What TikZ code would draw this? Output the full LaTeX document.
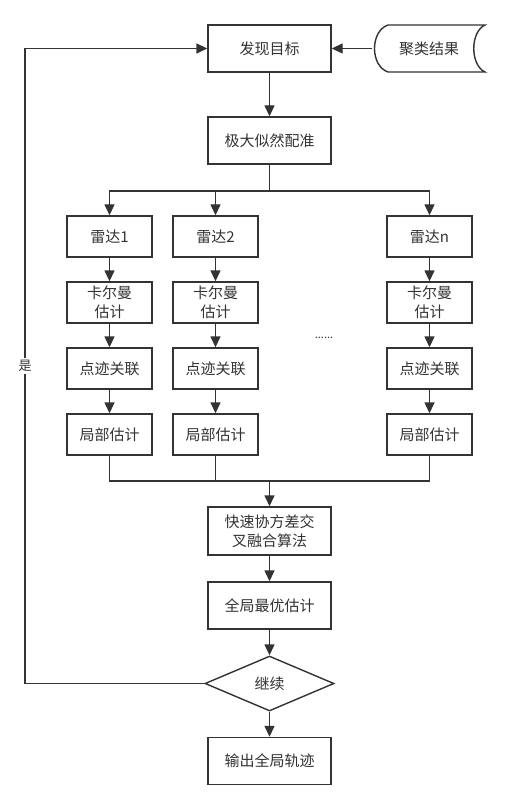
\documentclass[tikz,border=0pt]{standalone}
\usepackage{fontspec}
\setmainfont{Noto Sans CJK SC}
\usetikzlibrary{shapes.geometric,arrows.meta}
\begin{document}
\begin{tikzpicture}[x=1pt,y=-1pt,
  line width=1.4pt, draw=black!80,
  every node/.style={text=black!80, font=\fontsize{15}{19}\selectfont},
  bigbox/.style={draw=black!80, rectangle, minimum width=123pt, minimum height=47pt, inner sep=0pt, align=center},
  smallbox/.style={draw=black!80, rectangle, minimum width=85pt, minimum height=41pt, inner sep=0pt, align=center},
  arr/.style={draw=black!80, -{Triangle[length=11pt,width=10pt]}},
  ln/.style={draw=black!80}]
\useasboundingbox (0,0) rectangle (510,810);
\fill[white] (0,0) rectangle (510,810);

\node[bigbox] (find) at (269.5,48.5) {发现目标};
\node[bigbox] (mle) at (269.5,140.5) {极大似然配准};

% stored data shape
\node[minimum width=112pt, minimum height=47pt, inner sep=0pt] (clus) at (429,48.5) {聚类结果};
\draw[ln] (388,25) -- (485,25) .. controls (470,32) and (470,65) .. (485,72) -- (388,72) .. controls (370,66) and (370,31) .. (388,25) -- cycle;

\foreach \n/\x/\t in {1/109.5/1, 2/215.5/2, n/429.5/n}{
  \node[smallbox] (r\n) at (\x,236.5) {雷达\t};
  \node[smallbox] (k\n) at (\x,302.5) {卡尔曼\\估计};
  \node[smallbox] (a\n) at (\x,368.5) {点迹关联};
  \node[smallbox] (l\n) at (\x,434.5) {局部估计};
  \draw[arr] (r\n) -- (k\n);
  \draw[arr] (k\n) -- (a\n);
  \draw[arr] (a\n) -- (l\n);
}
\node[font=\fontsize{11}{13}\selectfont] (dots) at (324,338) {......};

\node[bigbox, minimum height=48pt] (fuse) at (269.5,531) {快速协方差交\\叉融合算法};
\node[bigbox] (glob) at (269.5,605.5) {全局最优估计};
\node[draw=black!80, diamond, shape aspect=2.35, minimum width=129pt, minimum height=55pt, inner sep=0pt] (cont) at (269.5,683.5) {继续};
\node[bigbox] (out) at (269.5,761) {输出全局轨迹};

\coordinate (split) at (269.5,191);
\coordinate (merge) at (269.5,481);
\coordinate (cb) at (25,683.5);
\coordinate (ct) at (25,48.5);

\draw[arr] (clus.west) -- (find.east);
\draw[arr] (find) -- (mle);
\draw[ln] (mle.south) -- (split);
\draw[arr] (split) -| (r1.north);
\draw[arr] (split) -| (r2.north);
\draw[arr] (split) -| (rn.north);
\draw[ln] (l1.south) |- (merge);
\draw[ln] (l2.south) |- (merge);
\draw[ln] (ln.south) |- (merge);
\draw[arr] (merge) -- (fuse.north);
\draw[arr] (fuse) -- (glob);
\draw[arr] (glob) -- (cont.north);
\draw[arr] (cont.south) -- (out.north);
\draw[ln] (cont.west) -- (cb) -- (ct);
\draw[arr] (ct) -- (find.west);
\node[fill=white, inner sep=2pt, font=\fontsize{13}{15}\selectfont] (yes) at (25,366) {是};
\end{tikzpicture}
\end{document}
